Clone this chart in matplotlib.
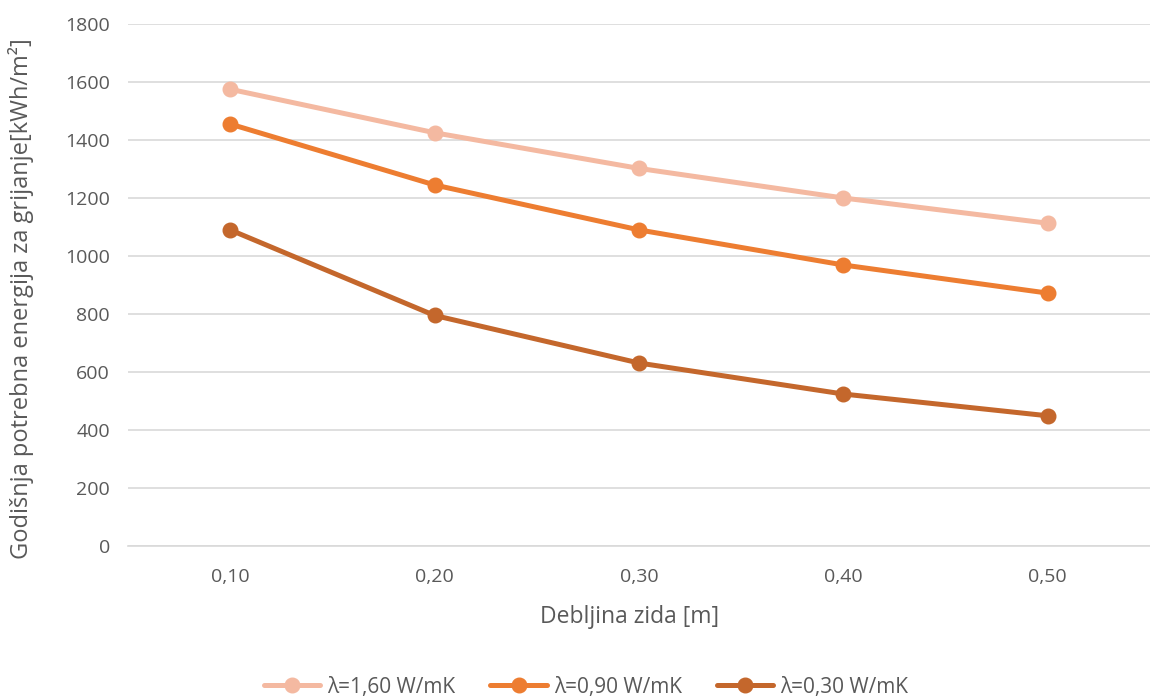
import matplotlib
matplotlib.use("Agg")
import matplotlib.pyplot as plt

categories = ["0,10", "0,20", "0,30", "0,40", "0,50"]
series_names = ["λ=1,60 W/mK", "λ=0,90 W/mK", "λ=0,30 W/mK"]
lam160 = [1575, 1425, 1302, 1200, 1113]
lam090 = [1455, 1245, 1090, 969, 872]
lam030 = [1090, 795, 631, 524, 449]
colors = ["#F4B9A1", "#ED7D31", "#C4672C"]
yticks = [0, 200, 400, 600, 800, 1000, 1200, 1400, 1600, 1800]

plt.rcParams['font.family'] = ['Open Sans', 'DejaVu Sans']

fig = plt.figure(figsize=(11.5, 6.98), dpi=100)
ax = fig.add_axes([128 / 1150, 1 - 546 / 698, 1022 / 1150, 522 / 698])

x = list(range(len(categories)))
for vals, name, c in zip([lam160, lam090, lam030], series_names, colors):
    ax.plot(x, vals, color=c, lw=3.6, marker='o', markersize=10.5, label=name,
            solid_capstyle='round', zorder=3)

ax.set_xlim(-0.5, len(categories) - 0.5)
ax.set_ylim(0, 1800)
ax.set_yticks(yticks)
ax.set_yticklabels([str(v) for v in yticks])
ax.set_xticks(x)
ax.set_xticklabels(categories)
ax.grid(axis='y', color='#D9D9D9', lw=1.2, zorder=0)
ax.set_axisbelow(True)
for s in ['top', 'right', 'left']:
    ax.spines[s].set_visible(False)
ax.spines['bottom'].set_color('#D9D9D9')
ax.spines['bottom'].set_linewidth(1.2)
ax.tick_params(axis='both', length=0, labelsize=14, labelcolor='#595959')
ax.tick_params(axis='y', pad=13)
ax.tick_params(axis='x', pad=16)

ax.set_xlabel("Debljina zida [m]", fontsize=16.5, color='#595959')
ax.xaxis.set_label_coords(0.491, -0.113)
ax.set_ylabel("Godišnja potrebna energija za grijanje[kWh/m²]", fontsize=17,
              color='#595959')
ax.yaxis.set_label_coords(-0.092, 0.473)

leg = fig.legend(loc='center', bbox_to_anchor=(586 / 1150, 1 - 687 / 698), ncol=3,
                 frameon=False, fontsize=15, handlelength=2.7, columnspacing=1.7,
                 handletextpad=0.33)
for t in leg.get_texts():
    t.set_color('#595959')

fig.savefig("out.png", dpi=100)
